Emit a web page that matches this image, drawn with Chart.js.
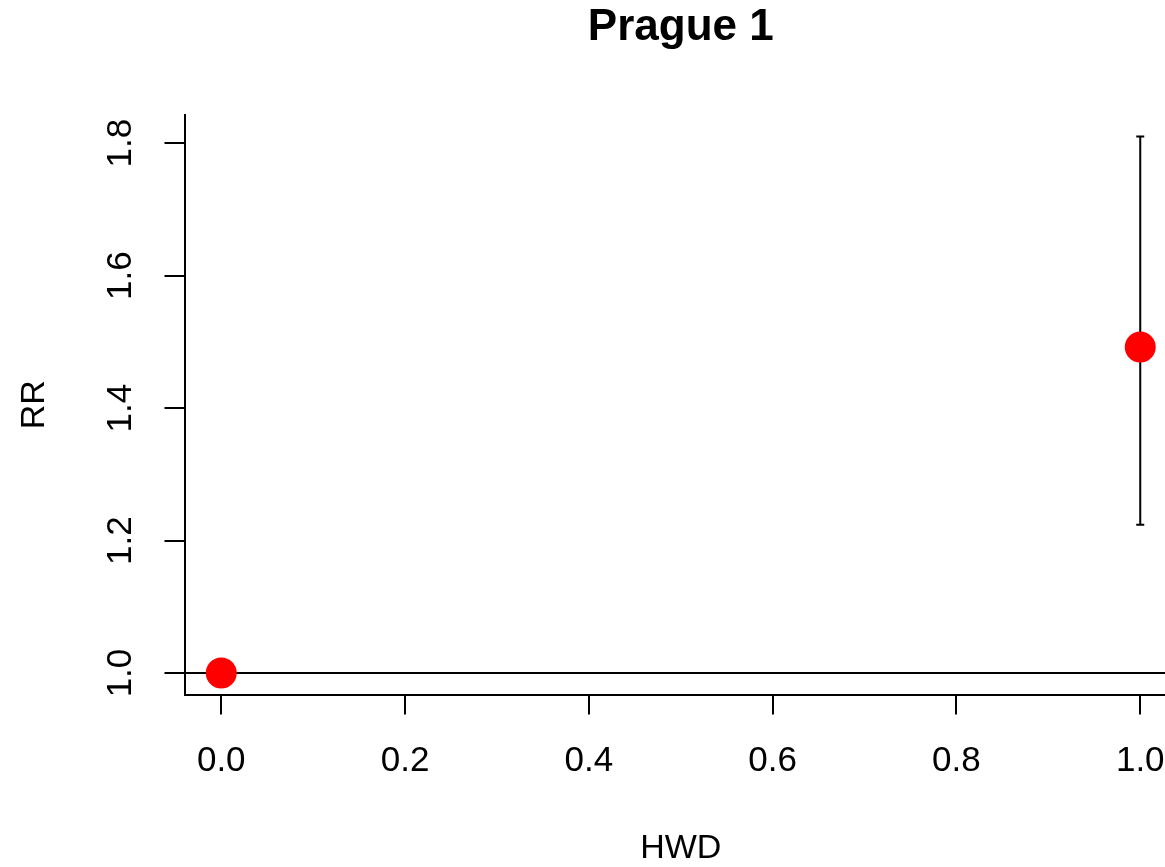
<!DOCTYPE html>
<html>
<head>
<meta charset="utf-8">
<title>Prague 1</title>
<script src="https://cdn.jsdelivr.net/npm/chart.js@4.4.1/dist/chart.umd.min.js"></script>
<style>
  html, body { margin: 0; padding: 0; background: #fff; overflow: hidden; }
  #wrap { width: 1220px; height: 867px; }
</style>
</head>
<body>
<div id="wrap"><canvas id="rrChart" width="1220" height="867"></canvas></div>
<script>
// relative risk by heatwave day indicator
var hwd = [0, 1];
var rr = [1.0, 1.492];
var rrLower = [1.0, 1.224];
var rrUpper = [1.0, 1.810];
var xTicks = [0, 0.2, 0.4, 0.6, 0.8, 1.0];
var yTicks = [1.0, 1.2, 1.4, 1.6, 1.8];
var refLevel = 1.0;

var FONT = "'Liberation Sans', Arial, sans-serif";

// base-graphics style range: data range widened by 4% each side
function padRange(lo, hi) {
  var d = (hi - lo) * 0.04;
  return [lo - d, hi + d];
}
var xRange = padRange(Math.min.apply(null, hwd), Math.max.apply(null, hwd));
var yRange = padRange(Math.min.apply(null, rrLower), Math.max.apply(null, rrUpper));

var points = hwd.map(function (x, i) { return { x: x, y: rr[i] }; });

// vertical CI segments, skipped where the interval is empty
var barPoints = [];
hwd.forEach(function (x, i) {
  if (rrUpper[i] > rrLower[i]) {
    if (barPoints.length) barPoints.push({ x: x, y: null });
    barPoints.push({ x: x, y: rrLower[i] }, { x: x, y: rrUpper[i] });
  }
});

function fixedTicks(values) {
  return function (scale) {
    scale.ticks = values.map(function (v) { return { value: v }; });
  };
}

var axisGrid = { drawOnChartArea: false, drawTicks: true, tickLength: 20, color: '#000', lineWidth: 2 };

new Chart(document.getElementById('rrChart'), {
  type: 'scatter',
  data: {
    datasets: [
      {
        label: 'RR',
        data: points,
        pointRadius: 15.5,
        pointBackgroundColor: '#ff0000',
        pointBorderWidth: 0,
        showLine: false
      },
      {
        label: 'CI',
        data: barPoints,
        showLine: true,
        spanGaps: false,
        borderColor: '#000',
        borderWidth: 2,
        pointStyle: 'line',
        pointRadius: 4,
        pointBorderColor: '#000',
        pointBorderWidth: 2
      },
      {
        label: 'ref',
        data: [{ x: xRange[0], y: refLevel }, { x: xRange[1], y: refLevel }],
        showLine: true,
        borderColor: '#000',
        borderWidth: 2,
        pointRadius: 0
      }
    ]
  },
  options: {
    responsive: false,
    animation: false,
    events: [],
    layout: { padding: { left: 0, right: 43, top: 0, bottom: 0 } },
    plugins: {
      legend: { display: false },
      tooltip: { enabled: false },
      title: {
        display: true,
        text: 'Prague 1',
        fullSize: false,
        color: '#000',
        font: { family: FONT, size: 44, weight: 'bold', lineHeight: 1 },
        padding: { top: 6, bottom: 65 }
      }
    },
    scales: {
      x: {
        type: 'linear',
        min: xRange[0],
        max: xRange[1],
        afterBuildTicks: fixedTicks(xTicks),
        afterFit: function (s) { s.height = 172.5; },
        grid: axisGrid,
        border: { display: true, color: '#000', width: 2 },
        ticks: {
          padding: 26,
          maxRotation: 0,
          color: '#000',
          font: { family: FONT, size: 35 },
          callback: function (v) { return v.toFixed(1); }
        },
        title: {
          display: true,
          text: 'HWD',
          color: '#000',
          font: { family: FONT, size: 34, lineHeight: 1 },
          padding: { top: 0, bottom: 1 }
        }
      },
      y: {
        type: 'linear',
        min: yRange[0],
        max: yRange[1],
        afterBuildTicks: fixedTicks(yTicks),
        afterFit: function (s) { s.width = 184.5; },
        grid: axisGrid,
        border: { display: true, color: '#000', width: 2 },
        ticks: {
          padding: 19,
          minRotation: 90,
          maxRotation: 90,
          crossAlign: 'center',
          color: '#000',
          font: { family: FONT, size: 35 },
          callback: function (v) { return v.toFixed(1); }
        },
        title: {
          display: true,
          text: 'RR',
          color: '#000',
          font: { family: FONT, size: 34, lineHeight: 1 },
          padding: { top: 18, bottom: 0 }
        }
      }
    }
  }
});
</script>
</body>
</html>
